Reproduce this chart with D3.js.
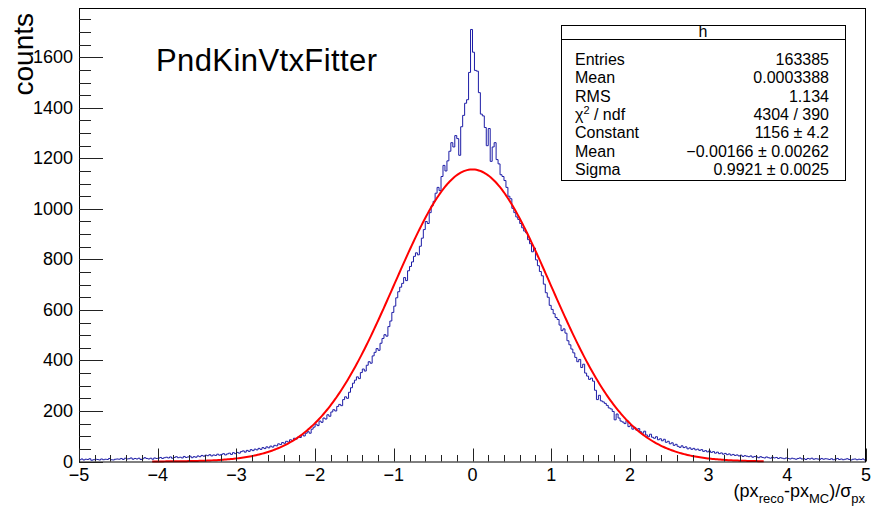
<!DOCTYPE html>
<html>
<head>
<meta charset="utf-8">
<script src="https://cdn.jsdelivr.net/npm/d3@7"></script>
<style>
  body { margin: 0; background: #fff; }
  svg { display: block; font-family: "Liberation Sans", Arial, Helvetica, sans-serif; }
</style>
</head>
<body>
<div id="chart"></div>
<script>
// histogram: 400 bins from -5 to 5 (bin width 0.025), counts
const binLow = -5, binHigh = 5;
const counts = [
  7, 10, 6, 9, 8, 11, 5, 7, 9, 8, 6, 10, 7, 9, 8, 12, 7, 6, 9, 10,
  9, 12, 8, 13, 10, 11, 14, 9, 12, 10, 13, 8, 11, 15, 12, 10, 13, 9, 14, 12,
  13, 16, 12, 15, 17, 14, 18, 13, 16, 19, 15, 17, 14, 20, 16, 18, 21, 15, 19, 17,
  22, 19, 24, 21, 25, 23, 27, 22, 26, 24, 29, 25, 28, 31, 26, 30, 33, 28, 35, 31,
  36, 33, 39, 42, 37, 44, 40, 47, 43, 49, 46, 52, 48, 55, 51, 58, 54, 61, 57, 64,
  62, 70, 67, 75, 72, 80, 77, 86, 83, 92, 89, 97, 95, 106, 101, 112, 118, 112, 128, 136,
  148, 142, 160, 155, 172, 168, 185, 179, 196, 205, 200, 218, 226, 221, 245, 256, 250, 274, 292, 310,
  322, 335, 328, 352, 366, 358, 381, 395, 389, 418, 432, 447, 440, 468, 487, 502, 496, 534, 556, 590,
  615, 648, 672, 690, 705, 728, 716, 755, 772, 790, 812, 826, 818, 852, 884, 918, 950, 942, 985, 1012,
  1030, 1062, 1085, 1072, 1128, 1172, 1150, 1190, 1228, 1262, 1245, 1290, 1278, 1212, 1325, 1370, 1418, 1432, 1540, 1710,
  1620, 1548, 1545, 1460, 1375, 1368, 1322, 1250, 1318, 1188, 1245, 1262, 1195, 1178, 1135, 1128, 1112, 1085, 1050, 1040,
  1002, 985, 968, 958, 942, 925, 912, 905, 878, 862, 830, 845, 798, 775, 752, 735, 702, 668, 650, 618,
  602, 585, 570, 562, 540, 518, 525, 508, 478, 462, 445, 430, 412, 395, 404, 372, 385, 350, 338, 325,
  330, 318, 282, 245, 262, 240, 236, 230, 222, 212, 208, 198, 165, 188, 172, 160, 156, 150, 162, 138,
  142, 128, 135, 124, 130, 118, 112, 120, 105, 98, 108, 96, 92, 98, 86, 90, 82, 88, 76, 80,
  70, 74, 64, 68, 60, 56, 62, 55, 58, 50, 54, 48, 52, 46, 49, 44, 47, 40, 43, 38,
  42, 36, 39, 33, 37, 31, 34, 29, 32, 27, 30, 25, 28, 24, 26, 22, 25, 20, 23, 21,
  19, 22, 17, 20, 18, 15, 19, 16, 14, 18, 15, 13, 17, 14, 16, 12, 15, 13, 11, 14,
  12, 10, 13, 11, 9, 12, 14, 10, 11, 8, 12, 10, 13, 9, 11, 10, 8, 12, 9, 11,
  10, 8, 11, 7, 9, 12, 8, 10, 7, 9, 11, 8, 6, 9, 10, 7, 9, 8, 10, 6
];

// gaus fit result (from the stats box) and the range it is drawn over
const fitParams = [1156, -0.00166, 0.9921];
const fitRange = [-4.07, 3.7];

// stats box rows
const statNames = ['Entries', 'Mean', 'RMS', 'chi2', 'Constant', 'Mean', 'Sigma'];
const statValues = ['163385', '0.0003388', '1.134', '4304 / 390', '1156 \u00b1 4.2', '\u22120.00166 \u00b1 0.00262', '0.9921 \u00b1 0.0025'];

const xTicks = [-5, -4, -3, -2, -1, 0, 1, 2, 3, 4, 5];
const yTicks = [0, 200, 400, 600, 800, 1000, 1200, 1400, 1600];

const width = 872, height = 508;
const padL = 79, padR = 866, padT = 8, padB = 461.5;

const svg = d3.select('#chart').append('svg')
    .attr('width', width).attr('height', height);

const x = d3.scaleLinear().domain([binLow, binHigh]).range([padL, padR]);
const y = d3.scaleLinear().domain([0, 1795]).range([padB, padT]);

// histogram as a step line
const binW = (binHigh - binLow) / counts.length;
const pts = counts.map((c, i) => [binLow + i * binW, c]);
pts.push([binHigh, counts[counts.length - 1]]);
const step = d3.line().x(d => x(d[0])).y(d => y(d[1])).curve(d3.curveStepAfter);

svg.append('path')
    .attr('d', step(pts))
    .attr('fill', 'none')
    .attr('stroke', '#1c1ca6')
    .attr('stroke-width', 1);

// fitted gaussian
const gaus = t => fitParams[0] * Math.exp(-0.5 * Math.pow((t - fitParams[1]) / fitParams[2], 2));
const fx = d3.range(fitRange[0], fitRange[1], 0.02).concat([fitRange[1]]);
svg.append('path')
    .attr('d', d3.line().x(d => x(d)).y(d => y(gaus(d)))(fx))
    .attr('fill', 'none')
    .attr('stroke', '#ff0000')
    .attr('stroke-width', 2);

// frame
svg.append('rect')
    .attr('x', padL + 0.5).attr('y', padT + 0.5)
    .attr('width', padR - padL - 1).attr('height', padB - padT)
    .attr('fill', 'none').attr('stroke', '#000').attr('stroke-width', 1);

// x ticks
const xMinor = d3.range(-5, 5.001, 0.2).map(v => +v.toFixed(2));
const gx = svg.append('g').attr('stroke', '#222').attr('stroke-width', 1);
gx.selectAll('line').data(xMinor).join('line')
    .attr('x1', d => Math.round(x(d)) + 0.5).attr('x2', d => Math.round(x(d)) + 0.5)
    .attr('y1', padB)
    .attr('y2', d => padB - (Number.isInteger(d) ? 13 : 6.5));

const fmt = d => d < 0 ? '\u2212' + Math.abs(d) : String(d);
svg.append('g').selectAll('text').data(xTicks).join('text')
    .attr('x', d => x(d)).attr('y', 481)
    .attr('text-anchor', 'middle')
    .attr('font-size', 18)
    .text(fmt);

// y ticks
const yMinor = d3.range(0, 1751, 50);
const gy = svg.append('g').attr('stroke', '#222').attr('stroke-width', 1);
gy.selectAll('line').data(yMinor).join('line')
    .attr('x1', padL)
    .attr('x2', d => padL + (d % 200 === 0 ? 24 : 12))
    .attr('y1', d => Math.round(y(d)) + 0.5).attr('y2', d => Math.round(y(d)) + 0.5);

svg.append('g').selectAll('text').data(yTicks).join('text')
    .attr('x', 73).attr('y', d => y(d) + 6)
    .attr('text-anchor', 'end')
    .attr('font-size', 18)
    .text(d => String(d));

// axis titles
const xt = svg.append('text')
    .attr('x', 865).attr('y', 497)
    .attr('text-anchor', 'end')
    .attr('font-size', 18);
xt.append('tspan').text('(px');
xt.append('tspan').attr('font-size', 13).attr('dy', 6).text('reco');
xt.append('tspan').attr('dy', -6).text('-px');
xt.append('tspan').attr('font-size', 13).attr('dy', 6).text('MC');
xt.append('tspan').attr('dy', -6).text(')/\u03c3');
xt.append('tspan').attr('font-size', 13).attr('dy', 6).text('px');

svg.append('text')
    .attr('transform', 'translate(33,13) rotate(-90)')
    .attr('text-anchor', 'end')
    .attr('font-size', 28)
    .text('counts');

// title
svg.append('text')
    .attr('x', 156).attr('y', 71)
    .attr('font-size', 31)
    .attr('textLength', 221)
    .text('PndKinVtxFitter');

// stats box
const box = svg.append('g');
box.append('rect')
    .attr('x', 561.5).attr('y', 25.5).attr('width', 284).attr('height', 155)
    .attr('fill', '#fff').attr('stroke', '#000').attr('stroke-width', 1);
box.append('line')
    .attr('x1', 561.5).attr('x2', 845.5).attr('y1', 39.5).attr('y2', 39.5)
    .attr('stroke', '#000');
box.append('text')
    .attr('x', 703).attr('y', 36.5).attr('text-anchor', 'middle')
    .attr('font-size', 16).text('h');

const rows = box.selectAll('g.row').data(statNames).join('g').classed('row', true)
    .attr('transform', (d, i) => `translate(0,${65 + i * 18.3})`);
rows.append('text')
    .attr('x', 575).attr('font-size', 16)
    .each(function (d) {
        const t = d3.select(this);
        if (d === 'chi2') {
            t.append('tspan').text('\u03c7');
            t.append('tspan').attr('font-size', 11).attr('dy', -6).text('2');
            t.append('tspan').attr('dy', 6).text(' / ndf');
        } else {
            t.text(d);
        }
    });
rows.append('text')
    .attr('x', 829).attr('text-anchor', 'end').attr('font-size', 16)
    .text((d, i) => statValues[i]);
</script>
</body>
</html>
